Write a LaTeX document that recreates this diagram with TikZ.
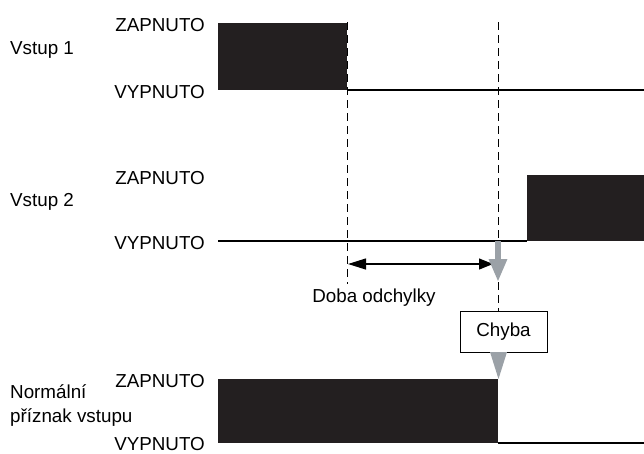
\documentclass[tikz,border=0pt]{standalone}
\usepackage{fontspec}
\setmainfont{Liberation Sans}
\usetikzlibrary{arrows.meta}
\definecolor{pulsefill}{HTML}{231F20}
\definecolor{errgray}{HTML}{9BA1A7}
\tikzset{
    main_line/.style = {
        draw=black,
        line width=1.2pt
    },
    pulse/.style = {
        fill=pulsefill,
        draw=none
    },
    mark_line/.style = {
        draw=black,
        line width=1pt,
        dash pattern=on 8pt off 5pt
    },
    level_label/.style = {
        anchor=east,
        inner sep=0pt,
        font=\fontsize{18.8}{22.5}\selectfont
    },
    signal_label/.style = {
        anchor=west,
        inner sep=0pt,
        align=left,
        font=\fontsize{18.8}{24}\selectfont
    },
    span_arrow/.style = {
        draw=black,
        line width=1.2pt,
        {Triangle[length=18pt,width=11pt]}-{Triangle[length=14pt,width=11pt]}
    },
    err_arrow/.style = {
        draw=errgray,
        line width=6pt,
        -{Triangle[length=23pt,width=17pt]}
    },
}

\begin{document}
\begin{tikzpicture}[x=1pt, y=-1pt]
                \useasboundingbox (0,0) rectangle (644,453);
                % Vstup 1
                \begin{scope}
                    \node[signal_label] (in1) at (10,50) {Vstup 1};
                    \node[level_label] (on1) at (205,25.5) {ZAPNUTO};
                    \node[level_label] (off1) at (205,92) {VYPNUTO};
                    \path[pulse] (218,23) rectangle (347,90);
                    \path[main_line] (347,90) -- (644,90);
                \end{scope}
                % Vstup 2
                \begin{scope}
                    \node[signal_label] (in2) at (10,202) {Vstup 2};
                    \node[level_label] (on2) at (205,178) {ZAPNUTO};
                    \node[level_label] (off2) at (205,243) {VYPNUTO};
                    \path[main_line] (218,241) -- (527,241);
                    \path[pulse] (527,175) rectangle (644,241);
                \end{scope}
                % Normalni priznak
                \begin{scope}
                    \node[signal_label] (in3) at (10,406) {Normální\\příznak vstupu};
                    \node[level_label] (on3) at (205,381.5) {ZAPNUTO};
                    \node[level_label] (off3) at (205,444) {VYPNUTO};
                    \path[pulse] (218,379) rectangle (498,443);
                    \path[main_line] (498,443) -- (644,443);
                \end{scope}

                \node[draw, line width=1pt, minimum width=87pt, minimum height=41pt, inner sep=0pt,
                      font=\fontsize{18.8}{22.5}\selectfont] (chyba) at (503.5,331.5) {Chyba};

                \coordinate (off_edge) at (347,22);
                \coordinate (off_end) at (347,284);
                \coordinate (err_edge) at (498,22);
                \path[mark_line] (off_edge) -- (off_end);
                \path[mark_line] (err_edge) -- (err_edge |- chyba.north);

                \coordinate (dev_a) at (348,264);
                \coordinate (dev_b) at (493,264);
                \draw[span_arrow] (dev_a) -- (dev_b);
                \node[inner sep=0pt, font=\fontsize{18.8}{22.5}\selectfont] (dev) at (374,298) {Doba odchylky};

                \draw[err_arrow] (498,241) -- (498,282);
                \fill[errgray] (490,352) -- (507,352) -- (498.5,379) -- cycle;
            \end{tikzpicture}
\end{document}
